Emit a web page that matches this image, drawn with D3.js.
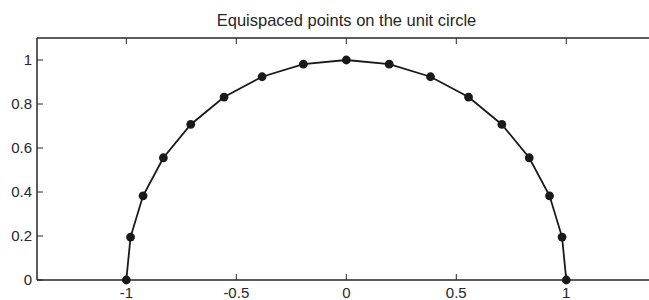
<!DOCTYPE html>
<html>
<head>
<meta charset="utf-8">
<script src="https://cdn.jsdelivr.net/npm/d3@7"></script>
<style>
body { margin: 0; background: #fff; }
svg { display: block; }
text { font-family: "Liberation Sans", Arial, Helvetica, sans-serif; fill: #262626; }
</style>
</head>
<body>
<svg id="chart" width="649" height="300"></svg>
<script>
// Data: 17 equispaced points on the upper unit circle
const xValues = [1, 0.9808, 0.9239, 0.8315, 0.7071, 0.5556, 0.3827, 0.1951, 0,
                 -0.1951, -0.3827, -0.5556, -0.7071, -0.8315, -0.9239, -0.9808, -1];
const yValues = [0, 0.1951, 0.3827, 0.5556, 0.7071, 0.8315, 0.9239, 0.9808, 1,
                 0.9808, 0.9239, 0.8315, 0.7071, 0.5556, 0.3827, 0.1951, 0];
const xTicks = [-1, -0.5, 0, 0.5, 1];
const yTicks = [0, 0.2, 0.4, 0.6, 0.8, 1];
const title = "Equispaced points on the unit circle";

(function () {
const svg = d3.select("#chart");
const mLeft = 37, mTop = 38, mBottom = 280, mRight = 655.6;
const x = d3.scaleLinear().domain([-1.406, 1.406]).range([mLeft, mRight]);
const y = d3.scaleLinear().domain([0, 1.1]).range([mBottom, mTop]);
const axisColor = "#262626";
const tickLen = 6;

const pts = xValues.map((v, i) => [v, yValues[i]]);

// Box axes
const g = svg.append("g");
g.append("line").attr("x1", mLeft).attr("x2", mRight).attr("y1", mBottom).attr("y2", mBottom)
  .attr("stroke", axisColor).attr("stroke-width", 1.5);
g.append("line").attr("x1", mLeft).attr("x2", mRight).attr("y1", mTop).attr("y2", mTop)
  .attr("stroke", axisColor).attr("stroke-width", 1.5);
g.append("line").attr("x1", mLeft).attr("x2", mLeft).attr("y1", mTop).attr("y2", mBottom)
  .attr("stroke", axisColor).attr("stroke-width", 1.5);

// x ticks (inward, bottom and top)
xTicks.forEach(t => {
  const px = x(t);
  g.append("line").attr("x1", px).attr("x2", px).attr("y1", mBottom).attr("y2", mBottom - tickLen)
    .attr("stroke", axisColor).attr("stroke-width", 1);
  g.append("line").attr("x1", px).attr("x2", px).attr("y1", mTop).attr("y2", mTop + tickLen)
    .attr("stroke", axisColor).attr("stroke-width", 1);
  g.append("text").attr("x", px).attr("y", 298).attr("text-anchor", "middle")
    .attr("font-size", 15).text(String(t));
});

// y ticks (inward, left)
yTicks.forEach(t => {
  const py = y(t);
  g.append("line").attr("x1", mLeft).attr("x2", mLeft + tickLen).attr("y1", py).attr("y2", py)
    .attr("stroke", axisColor).attr("stroke-width", 1);
  g.append("text").attr("x", 32).attr("y", py).attr("dy", "0.35em").attr("text-anchor", "end")
    .attr("font-size", 15).text(String(t));
});

// Title
svg.append("text").attr("x", 346.5).attr("y", 25.5).attr("text-anchor", "middle")
  .attr("font-size", 16.5).text(title);

// Line
const line = d3.line().x(d => x(d[0])).y(d => y(d[1]));
svg.append("path").datum(pts).attr("d", line).attr("fill", "none")
  .attr("stroke", "#1a1a1a").attr("stroke-width", 1.8);

// Markers
svg.selectAll("circle.pt").data(pts).enter().append("circle").attr("class", "pt")
  .attr("cx", d => x(d[0])).attr("cy", d => y(d[1])).attr("r", 4.4)
  .attr("fill", "#1a1a1a");
})();
</script>
</body>
</html>
